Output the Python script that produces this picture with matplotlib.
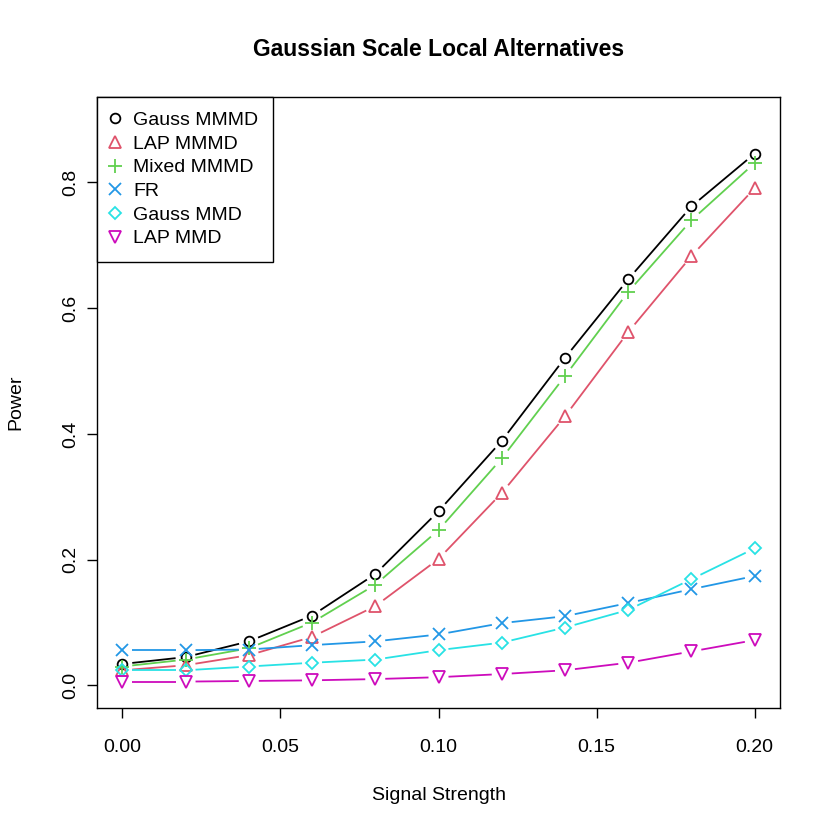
import numpy as np
import matplotlib
matplotlib.use("Agg")
from matplotlib import pyplot as plt
from matplotlib.lines import Line2D

plt.rcParams['font.family'] = ['Liberation Sans', 'DejaVu Sans']

# signal strength values
signal = [0.00, 0.02, 0.04, 0.06, 0.08, 0.10, 0.12, 0.14, 0.16, 0.18, 0.20]

# power for each test
gauss_mmmd = [0.034, 0.045, 0.070, 0.111, 0.177, 0.277, 0.389, 0.521, 0.646, 0.762, 0.846]
lap_mmmd = [0.024, 0.032, 0.048, 0.077, 0.126, 0.201, 0.306, 0.428, 0.562, 0.683, 0.791]
mixed_mmmd = [0.030, 0.041, 0.059, 0.100, 0.160, 0.247, 0.361, 0.492, 0.626, 0.740, 0.831]
fr = [0.056, 0.056, 0.057, 0.064, 0.070, 0.081, 0.099, 0.110, 0.131, 0.153, 0.174]
gauss_mmd = [0.024, 0.024, 0.030, 0.036, 0.041, 0.056, 0.068, 0.092, 0.120, 0.169, 0.218]
lap_mmd = [0.006, 0.006, 0.007, 0.008, 0.010, 0.013, 0.018, 0.024, 0.036, 0.054, 0.072]

labels = ["Gauss MMMD", "LAP MMMD", "Mixed MMMD", "FR", "Gauss MMD", "LAP MMD"]
series = [gauss_mmmd, lap_mmmd, mixed_mmmd, fr, gauss_mmd, lap_mmd]
colors = ["#000000", "#DF536B", "#61D04F", "#2297E6", "#28E2E5", "#CD0BBC"]
markers = ["o", "^", "+", "x", "D", "v"]
sizes = [7.0, 8.0, 9.5, 8.0, 6.5, 8.0]

LW = 1.3
GAP = 10  # pixels of gap around each point, like R type="b"
FS = 14


def plot_b(ax, x, y, color, marker, ms):
    pts = ax.transData.transform(np.column_stack([x, y]))
    inv = ax.transData.inverted()
    for p0, p1 in zip(pts[:-1], pts[1:]):
        d = p1 - p0
        dist = np.hypot(d[0], d[1])
        if dist <= 2 * GAP:
            continue
        u = d / dist
        a = inv.transform(p0 + u * GAP)
        b = inv.transform(p1 - u * GAP)
        ax.plot([a[0], b[0]], [a[1], b[1]], color=color, lw=LW, solid_capstyle='butt')
    ax.plot(x, y, linestyle='none', marker=marker, mfc='none', mec=color,
            ms=ms, mew=LW)


fig = plt.figure(figsize=(8.3, 8.3), dpi=100)
ax = fig.add_axes([97 / 830, 122 / 830, 683 / 830, 611 / 830])
ax.set_xlim(-0.008, 0.208)
ax.set_ylim(-0.036, 0.936)

for vals, c, m, s in zip(series, colors, markers, sizes):
    plot_b(ax, signal, vals, c, m, s)

ax.set_xticks([0.00, 0.05, 0.10, 0.15, 0.20])
ax.set_xticklabels(["0.00", "0.05", "0.10", "0.15", "0.20"])
ax.set_yticks([0.0, 0.2, 0.4, 0.6, 0.8])
ax.set_yticklabels(["0.0", "0.2", "0.4", "0.6", "0.8"], rotation=90, va='center')
ax.tick_params(direction='out', length=7, width=1, labelsize=FS)
ax.tick_params(axis='x', pad=15)
ax.tick_params(axis='y', pad=6)
for sp in ax.spines.values():
    sp.set_linewidth(1)

ax.set_title("Gaussian Scale Local Alternatives", fontsize=16.5, fontweight='bold', pad=29.5)
ax.set_xlabel("Signal Strength", fontsize=FS, labelpad=22.5)
ax.set_ylabel("Power", fontsize=FS, labelpad=27)

handles = [Line2D([], [], linestyle='none', marker=m, mfc='none', mec=c, ms=s, mew=LW)
           for c, m, s in zip(colors, markers, sizes)]
leg = ax.legend(handles, labels, loc='upper left', borderaxespad=0, fancybox=False,
                edgecolor='black', framealpha=1, fontsize=FS, handlelength=0.4,
                handletextpad=0.7, labelspacing=0.31, borderpad=0.75)
leg.get_frame().set_linewidth(1)

fig.savefig("out.png", dpi=100)
